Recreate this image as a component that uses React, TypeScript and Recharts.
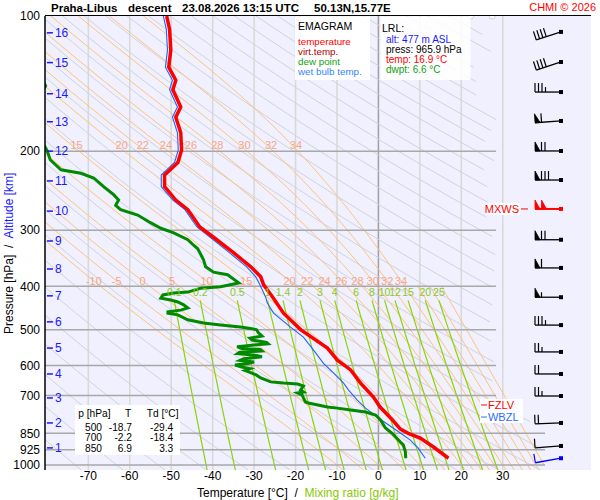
import React from "react";
import { ComposedChart, Line, XAxis, YAxis, Scatter, CartesianGrid } from "recharts";

// ---------------- sounding values ----------------
const tempP = [100,107,119,130,139,146,159.5,168,182,199,212,226,240,257,270,295,311,337,362,381,397,423,459,500,549,584,614,657,706,743,794,832,850,871,912,965.9];
const tempT = [-51.1,-50.4,-50.1,-50.6,-48.9,-49.6,-47.7,-48.9,-47.7,-47.5,-48.4,-51.6,-51.6,-48.9,-46.0,-43.1,-39.8,-34.9,-30.8,-28.4,-27.7,-25.5,-22.9,-18.7,-12.3,-9.9,-6.7,-4.3,-1.2,0.4,3.4,5.3,7.2,10.1,13.3,16.9];

const wetP = [100,107,119,130,139,146,159.5,168,182,199,212,226,240,257,270,295,311,337,362,381,397,423,436,459,493,519,554,593,624,657,681,717,747,786,849,880,917,965.9];
const wetT = [-51.9,-51.2,-50.9,-51.4,-49.7,-50.4,-48.5,-49.7,-48.5,-48.3,-49.2,-52.4,-52.4,-49.6,-46.7,-43.8,-40.6,-35.9,-31.8,-29.6,-28.6,-27.2,-26.8,-25.3,-21.2,-18.1,-15.7,-13.3,-10.8,-8.4,-7.2,-5.1,-3.1,0.0,5.3,7.7,9.6,11.3];

const dewP = [100,125,143,160,185,199,209,220,224,229.5,240,250,257,264,270,277.5,289,297,304,315,324,330,349,362,372,377,393,401,404,412,414,418,425,429,433.5,440,447,452,456,459,463,475,483,488,493,497,500,507,516,522,527,533,537,541,545,550,553,557,561,565,570,574,580,585,590,594,599,605,610,616,622,630,640,653,657,660,667,681,688,691,699,709,724,728,743,747,754,762,774,794,827,850,889,902,935,965.9];
const dewT = [-86,-84,-80.3,-83,-82,-80.0,-79.2,-76.6,-71.8,-68.7,-66.3,-63.9,-62.7,-63.4,-62.2,-58.1,-54.9,-52.5,-49.4,-46.0,-44.6,-43.6,-42.2,-41.7,-39.8,-36.4,-33.7,-38.1,-42.9,-46.0,-49.4,-52.0,-52.5,-50.1,-48.4,-47.0,-46.0,-47.7,-50.8,-50.8,-48.4,-46.0,-42.2,-38.1,-33.3,-30.5,-29.4,-29.0,-28.1,-31.0,-30.5,-27.0,-26.6,-30.5,-34.1,-33.0,-28.5,-28.1,-33.5,-34.0,-29.5,-28.1,-32.5,-33.4,-30.0,-31.5,-34.6,-33.0,-31.0,-32.2,-31.0,-29.5,-28.4,-26.0,-22.9,-19.5,-18.1,-18.8,-18.1,-19.5,-18.4,-18.1,-17.6,-16.9,-12.3,-9.9,-6.7,-3.1,-0.7,0.5,1.7,3.3,5.3,6.0,6.5,6.6];

// wind profile
const windP = [108.5,126.6,147.7,171.3,199.8,231.9,269,315,364,423,488,560,627,702,806,907,965.9];
const windDir = [252,252,270,266,270,270,270,270,270,270,270,270,270,270,268,266,260];
const windSpeed = [40,40,35,60,70,80,100,70,60,55,35,25,20,25,20,10,10];
const maxWindP = 269;
const surfaceP = 965.9;

// altitude labels (km) at their pressure
const altKm = [1,2,3,4,5,6,7,8,9,10,11,12,13,14,15,16];
const altP = [916,806,709,627,549,480,420,366,317,272,233,200,172,149,127,109];

// freezing / wet-bulb zero levels
const levelNames = ["FZLV", "WBZL"];
const levelP = [735, 782];

// axis ticks
const pressureTicks = [100,200,300,400,500,600,700,850,925,1000];
const tempTicks = [-70,-60,-50,-40,-30,-20,-10,0,10,20,30];

// diagram background families
const isotherms = [-70,-60,-50,-40,-30,-20,-10,0,10,20,30];
const isobarsUpper = [200,300,400,500,600,700];
const isobarsLower = [850,925,1000];
const dryThetas = Array.from({ length: 40 }, (_, i) => 190 + i * 10);
const moistThetaW = [-10,-5,0,5,10,15,20,22,24,26,28,30,32,34,36,38,40];
const lowerMoistLabels = [-10,-5,0,5,10,15,20,22,24,26,28,30,32,34];
const upperMoistLabels = [15,20,22,24,26,28,30,32,34];
const mixingRatios = [0.1,0.2,0.5,1,1.4,2,3,4,6,8,10,12,15,20,25];
const mixingLabelText = ["0.1","0.2","0.5","1","1.4","2","3","4","6","8","10","12","15","20","25"];

// table
const tableP = ["500","700","850"];
const tableT = ["-18.7","-2.2","6.9"];
const tableTd = ["-29.4","-18.4","3.3"];

// ---------------- thermodynamics for the diagram lines ----------------
const EPS = 0.622, RD = 287.04, CPD = 1005.7, LV = 2.501e6, KAPPA = RD / CPD;
const esat = (tc: number) => 6.112 * Math.exp((17.67 * tc) / (tc + 243.5));
const P_TOP = 100, P_BOT = 1026;
const samplePs: number[] = [P_BOT, ...Array.from({ length: 91 }, (_, i) => 1000 - i * 10)];

const tMax = (p: number) => {
  if (p <= 700) return 28.4;
  if (p >= 850) return 40.2;
  const f = Math.log(p / 700) / Math.log(850 / 700);
  return 28.4 + f * 11.8;
};

const dryLine = (theta: number) =>
  samplePs.map((p) => ({ p, T: theta * Math.pow(p / 1000, KAPPA) - 273.15 })).filter((q) => q.T <= tMax(q.p));

const mixT = (w: number, p: number) => {
  const wk = w / 1000;
  const e = (wk * p) / (EPS + wk);
  const l = Math.log(e / 6.112);
  return (243.5 * l) / (17.67 - l);
};
const mixLine = (w: number) =>
  samplePs.filter((p) => p >= 430).concat([430]).map((p) => ({ p, T: mixT(w, p) })).filter((q) => q.T <= tMax(q.p));

const moistRaw = (thw: number) => {
  const f = (T: number, p: number) => {
    const e = esat(T - 273.15);
    const rs = (EPS * e) / (p - e);
    return (RD * T + LV * rs) / (p * (CPD + (LV * LV * rs * EPS) / (RD * T * T)));
  };
  const pts: { p: number; T: number }[] = [];
  let T = thw + 273.15;
  let p = 1000;
  for (let i = 0; i < 13; i++) {
    const dp = 2;
    const k1 = f(T, p);
    const k2 = f(T + (k1 * dp) / 2, p + dp / 2);
    T += k2 * dp;
    p += dp;
  }
  pts.push({ p: P_BOT, T: T - 273.15 });
  T = thw + 273.15;
  pts.push({ p: 1000, T: thw });
  for (let i = 1; i <= 450; i++) {
    const p0 = 1000 - 2 * (i - 1);
    const dp = -2;
    const k1 = f(T, p0);
    const k2 = f(T + (k1 * dp) / 2, p0 + dp / 2);
    T += k2 * dp;
    if (i % 5 === 0) pts.push({ p: 1000 - 2 * i, T: T - 273.15 });
  }
  return pts;
};
const tAt = (pts: { p: number; T: number }[], p: number) => {
  for (let i = 0; i < pts.length - 1; i++) {
    const a = pts[i], b = pts[i + 1];
    if (p <= a.p && p >= b.p) {
      const f = Math.log(a.p / p) / Math.log(a.p / b.p);
      return a.T + f * (b.T - a.T);
    }
  }
  return NaN;
};
const moistRawLines = moistThetaW.map((w) => ({ w, pts: moistRaw(w) }));
const moistLines = moistRawLines.map(({ w, pts }) =>
  pts.filter((q) => q.T <= tMax(q.p) && (w <= 34 || q.p >= 400))
);

// ---------------- chart data built from the arrays ----------------
const tempData = tempP.map((p, i) => ({ p, T: tempT[i] }));
const wetData = wetP.map((p, i) => ({ p, T: wetT[i] }));
const dewData = dewP.map((p, i) => ({ p, T: dewT[i] }));

const X_MIN = -80.46, X_MAX = 51.3;
const BARB_T = 44.06;
const ALT_T = -80.0;

const barbData = windP.map((p, i) => ({
  p,
  T: BARB_T,
  dir: windDir[i],
  speed: windSpeed[i],
  color: p === maxWindP ? "#ff0000" : p === surfaceP ? "#0000ff" : "#000000",
  mxws: p === maxWindP,
}));
const altData = altKm.map((km, i) => ({ p: altP[i], T: ALT_T, label: String(km) }));
const levelData = levelNames.map((n, i) => ({ p: levelP[i], T: BARB_T, label: n, color: i === 0 ? "#ff0000" : "#2a6cff" }));

const moistLabelData = [
  ...lowerMoistLabels.map((w) => {
    const pts = moistRawLines.find((m) => m.w === w)!.pts;
    return { p: 389, T: tAt(pts, 389), label: String(w) };
  }),
  ...upperMoistLabels.map((w) => {
    const pts = moistRawLines.find((m) => m.w === w)!.pts;
    return { p: 194, T: tAt(pts, 198), label: String(w) };
  }),
];
const mixLabelData = mixingRatios.map((w, i) => ({ p: 413, T: mixT(w, 430), label: mixingLabelText[i] }));

const FONT = "'Liberation Sans', Arial, sans-serif";

// ---------------- shapes ----------------
const TextShape = (color: string, size: number) => (props: any) => {
  const { cx, cy, payload } = props;
  if (cx == null || cy == null) return <g />;
  return (
    <text x={cx} y={cy} dy="0.35em" textAnchor="middle" fontSize={size} fill={color} fontFamily={FONT}>
      {payload.label}
    </text>
  );
};

const AltShape = (props: any) => {
  const { cx, cy, payload } = props;
  if (cx == null || cy == null) return <g />;
  return (
    <g>
      <line x1={cx} x2={cx + 6} y1={cy} y2={cy} stroke="#1a1aff" strokeWidth={1.5} />
      <text x={cx + 8} y={cy} dy="0.35em" fontSize={12} fill="#1a1aff" fontFamily={FONT}>
        {payload.label}
      </text>
    </g>
  );
};

const LevelShape = (props: any) => {
  const { cx, cy, payload } = props;
  if (cx == null || cy == null) return <g />;
  return (
    <g>
      <rect x={cx - 81} y={cy - 6} width={43} height={12} fill="#ffffff" />
      <line x1={cx - 80} x2={cx - 74} y1={cy} y2={cy} stroke={payload.color} strokeWidth={1} />
      <text x={cx - 73} y={cy} dy="0.36em" fontSize={11} fill={payload.color} fontFamily={FONT}>
        {payload.label}
      </text>
    </g>
  );
};

const BarbShape = (props: any) => {
  const { cx, cy, payload } = props;
  if (cx == null || cy == null) return <g />;
  const a = (payload.dir * Math.PI) / 180;
  const ux = Math.sin(a), uy = -Math.cos(a);
  const px = -uy, py = ux;
  const L = 26, BL = 9, SP = 3.5;
  const c = payload.color;
  const pt = (d: number, h: number) => [cx + ux * d + px * h, cy + uy * d + py * h];
  const parts: React.ReactNode[] = [];
  let rem = Math.round(payload.speed / 5) * 5;
  let d = L;
  let k = 0;
  while (rem >= 50) {
    const [ax, ay] = pt(d, 0), [bx, by] = pt(d - 5, 0), [tx, ty] = pt(d, BL);
    parts.push(<polygon key={k++} points={`${ax},${ay} ${tx},${ty} ${bx},${by}`} fill={c} stroke={c} strokeWidth={0.8} />);
    d -= 6.5;
    rem -= 50;
  }
  while (rem >= 10) {
    const [ax, ay] = pt(d, 0), [tx, ty] = pt(d, BL);
    parts.push(<line key={k++} x1={ax} y1={ay} x2={tx} y2={ty} stroke={c} strokeWidth={1.2} />);
    d -= SP;
    rem -= 10;
  }
  if (rem >= 5) {
    if (d === L) d -= SP;
    const [ax, ay] = pt(d, 0), [tx, ty] = pt(d, BL * 0.55);
    parts.push(<line key={k++} x1={ax} y1={ay} x2={tx} y2={ty} stroke={c} strokeWidth={1.2} />);
  }
  const [ex, ey] = pt(L, 0);
  return (
    <g>
      {payload.mxws && (
        <g>
          <rect x={cx - 75} y={cy - 6} width={34} height={12} fill="#ffffff" />
          <text x={cx - 42} y={cy} dy="0.36em" textAnchor="end" fontSize={11} fill="#ff0000" fontFamily={FONT}>
            MXWS
          </text>
          <line x1={cx - 40} x2={cx - 33} y1={cy} y2={cy} stroke="#ff0000" strokeWidth={1} />
        </g>
      )}
      <line x1={cx} y1={cy} x2={ex} y2={ey} stroke={c} strokeWidth={payload.mxws ? 2 : 1.3} />
      {parts}
      <rect x={cx - 2} y={cy - 2} width={4} height={4} fill={c} />
    </g>
  );
};

const lineProps = { dot: false, activeDot: false, isAnimationActive: false, legendType: "none" as const, dataKey: "p", type: "linear" as const };

export default function App() {
  return (
    <div style={{ position: "absolute", left: 0, top: 0, width: 600, height: 500, background: "#ffffff", fontFamily: FONT }}>
      <ComposedChart width={600} height={500} margin={{ top: 16, right: 9, bottom: 0, left: 0 }}>
        <CartesianGrid fill="#f0f0ff" stroke="none" horizontal={false} vertical={false} />
        <XAxis
          type="number"
          dataKey="T"
          domain={[X_MIN, X_MAX]}
          allowDataOverflow
          ticks={tempTicks}
          interval={0}
          height={30}
          axisLine={false}
          tickLine={false}
          tickSize={0}
          tickMargin={1}
          tick={{ fontSize: 12, fill: "#000", fontFamily: FONT }}
        />
        <YAxis
          type="number"
          dataKey="p"
          scale="log"
          domain={[P_TOP, P_BOT]}
          allowDataOverflow
          reversed
          ticks={pressureTicks}
          interval={0}
          width={45}
          axisLine={{ stroke: "#000", strokeWidth: 1.5 }}
          tickLine={false}
          tickSize={3}
          tickMargin={2}
          tick={{ fontSize: 12, fill: "#000", fontFamily: FONT }}
        />
        {isotherms.map((t) => (
          <Line
            key={"iso" + t}
            {...lineProps}
            data={[{ T: t, p: P_BOT }, { T: t, p: P_TOP }]}
            stroke={t === 0 ? "#a0a0a0" : "#d8d8d8"}
            strokeWidth={1.5}
          />
        ))}
        {dryThetas.map((th) => (
          <Line key={"dry" + th} {...lineProps} data={dryLine(th)} stroke="#d2d2da" strokeWidth={1} />
        ))}
        {moistLines.map((pts, i) => (
          <Line key={"moist" + i} {...lineProps} data={pts} stroke="#ffc37a" strokeWidth={1} />
        ))}
        {mixingRatios.map((w) => (
          <Line key={"mix" + w} {...lineProps} data={mixLine(w)} stroke="#8cd400" strokeWidth={1.2} />
        ))}
        {isobarsUpper.map((p) => (
          <Line key={"pu" + p} {...lineProps} data={[{ T: X_MIN, p }, { T: 28.4, p }]} stroke="#a8a8a8" strokeWidth={1.5} />
        ))}
        {isobarsLower.map((p) => (
          <Line key={"pl" + p} {...lineProps} data={[{ T: X_MIN, p }, { T: 40.2, p }]} stroke="#a8a8a8" strokeWidth={1.5} />
        ))}
        <Line {...lineProps} data={wetData} stroke="#1e64ff" strokeWidth={1.1} />
        <Line {...lineProps} data={dewData} stroke="#008a00" strokeWidth={3} />
        <Line {...lineProps} data={tempData} stroke="#ff0000" strokeWidth={3.5} />
        <Scatter dataKey="p" data={moistLabelData} isAnimationActive={false} shape={TextShape("#f6a688", 11)} legendType="none" />
        <Scatter dataKey="p" data={mixLabelData} isAnimationActive={false} shape={TextShape("#8cc81e", 10.5)} legendType="none" />
        <Scatter dataKey="p" data={altData} isAnimationActive={false} shape={AltShape} legendType="none" />
        <Scatter dataKey="p" data={levelData} isAnimationActive={false} shape={LevelShape} legendType="none" />
        <Scatter dataKey="p" data={barbData} isAnimationActive={false} shape={BarbShape} legendType="none" />
      </ComposedChart>
      <svg width={600} height={500} style={{ position: "absolute", left: 0, top: 0, pointerEvents: "none" }} fontFamily={FONT}>
        <line x1={45} x2={591} y1={15.5} y2={15.5} stroke="#000" strokeWidth={1.2} />
        {/* title */}
        <g fontSize={11.5} fontWeight="bold" fill="#000">
          <text x={51} y={12}>Praha-Libus</text>
          <text x={128} y={12}>descent</text>
          <text x={182} y={12}>23.08.2026 13:15 UTC</text>
          <text x={314} y={12}>50.13N,15.77E</text>
        </g>
        <text x={596} y={11} textAnchor="end" fontSize={11} fill="#ff0000">CHMI © 2026</text>
        {/* legend box */}
        <rect x={295} y={16.5} width={75} height={63.5} fill="#ffffff" />
        <g fontSize={9.8}>
          <text x={298} y={29.5} fontSize={10.5} fill="#000">EMAGRAM</text>
          <text x={298} y={44.5} fill="#ff0000">temperature</text>
          <text x={298} y={54.5} fill="#b00000">virt.temp.</text>
          <text x={298} y={64.5} fill="#12a012">dew point</text>
          <text x={298} y={74.5} fill="#3385ff">wet bulb temp.</text>
        </g>
        {/* LRL box */}
        <rect x={380.5} y={16.5} width={90} height={63.5} fill="#ffffff" fillOpacity={0.88} />
        <g fontSize={10}>
          <text x={382} y={31.7} fontSize={10.5} fill="#000">LRL:</text>
          <text x={386} y={43.3} fill="#1a1aff">alt: 477 m ASL</text>
          <text x={386} y={53.3} fill="#000">press: 965.9 hPa</text>
          <text x={386} y={63.3} fill="#ff0000">temp: 16.9 °C</text>
          <text x={386} y={73.3} fill="#12a012">dwpt: 6.6 °C</text>
        </g>
        {/* table */}
        <rect x={75} y={405} width={105} height={50} fill="#ffffff" />
        <g fontSize={10.2} fill="#000">
          <text x={78.3} y={416.5}>p [hPa]</text>
          <text x={125} y={416.5}>T</text>
          <text x={146.7} y={416.5}>Td [°C]</text>
          {tableP.map((p, i) => (
            <g key={p}>
              <text x={102} y={430.5 + i * 10.8} textAnchor="end">{p}</text>
              <text x={132} y={430.5 + i * 10.8} textAnchor="end">{tableT[i]}</text>
              <text x={173.3} y={430.5 + i * 10.8} textAnchor="end">{tableTd[i]}</text>
            </g>
          ))}
        </g>
        {/* axis titles */}
        <text x={197} y={497} fontSize={12} fill="#000" xmlSpace="preserve" style={{ whiteSpace: "pre" }}>
          {"Temperature [°C]  /  "}<tspan fill="#88c800">Mixing ratio [g/kg]</tspan>
        </text>
        <text transform="translate(13,334) rotate(-90)" fontSize={12} fill="#000" xmlSpace="preserve" style={{ whiteSpace: "pre" }}>
          {"Pressure [hPa]  /  "}<tspan fill="#1a1aff">Altitude [km]</tspan>
        </text>
      </svg>
    </div>
  );
}
